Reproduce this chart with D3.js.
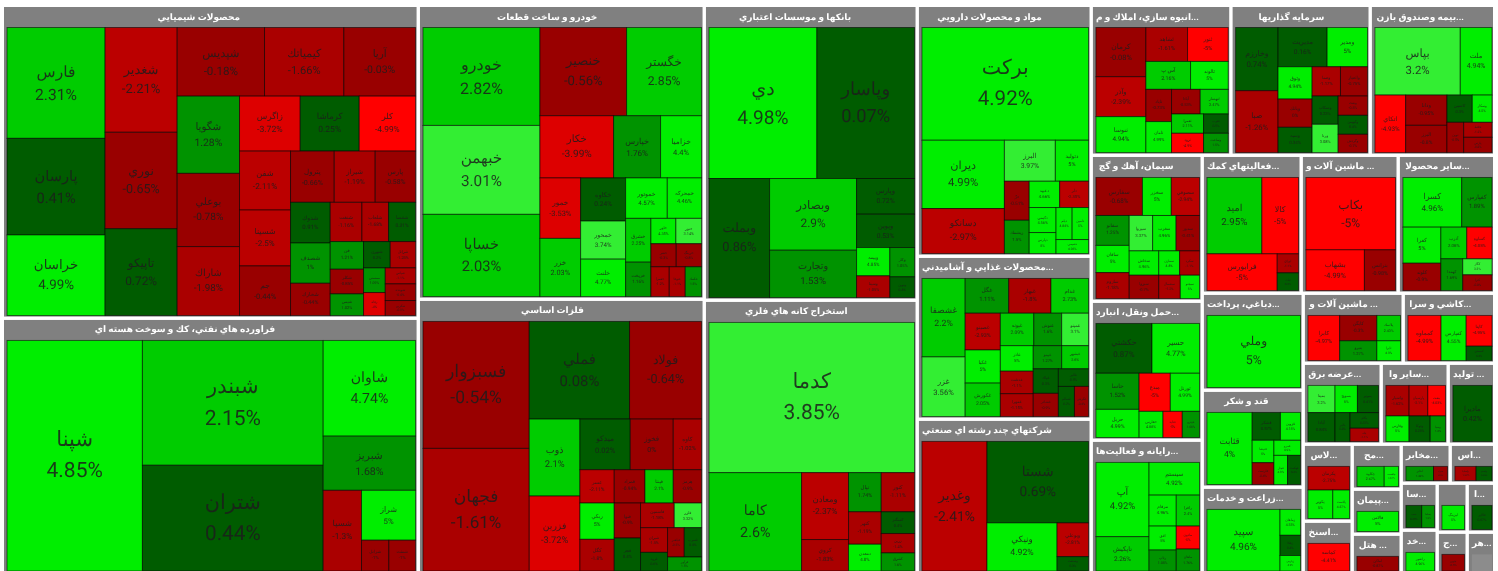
<!DOCTYPE html>
<html lang="fa">
<head>
<meta charset="utf-8">
<title>نقشه بازار</title>
<script src="https://cdn.jsdelivr.net/npm/d3@7"></script>
<style>
  html, body { margin: 0; padding: 0; background: #fff; overflow: hidden; }
  svg { display: block; filter: blur(0.35px); }
  text { font-family: Roboto, "DejaVu Sans", sans-serif; dominant-baseline: central; text-rendering: geometricPrecision; }
  .name, .change { text-anchor: middle; }
</style>
</head>
<body>
<script>
// Each sector: tickers, daily change (%), area weight, and how the cells nest.
// A split is read in turns (across, down, across...), n = the next n cells as one strip.
const chemNames = ['فارس','پارسان','خراسان','شغدير','نوري','تاپيكو','شپديس','كيمياتك','آريا','شگويا','بوعلي','شاراك','زاگرس','كرماشا','كلر','شفن','شسينا','جم','پترول','شيراز','پارس','شدوك','شصدف','شخارك','شنفت','شلعاب','شفسا','فن','شكلر','شيمي','شبهرن','شرانل','ممسني','رفاه','شپاس','شوينده','شكربن']
const chemChanges = [2.31,0.41,4.99,-2.21,-0.65,0.72,-0.18,-1.66,-0.03,1.28,-0.78,-1.98,-3.72,0.25,-4.99,-2.11,-2.5,-0.44,-0.66,-1.19,-0.58,0.91,1,-0.44,-1.16,-1.68,0.31,1.21,-0.85,1.02,0.2,-1.28,1.09,-4,-1.1,-0.4,-0.9]
const chemCaps = [10878,9477,7909,7560,6962,6264,6000,5450,4925,4818,4570,4300,3337,3245,3098,3009,2856,2533,2240,2100,2070,1615,1600,1282,1245,1048,1060,922,822,722,703,667,536,499,485,505,455]
const chemSplit = [3,3,[3,[3,[3,[3,[3,[3,[3,[3,[2,[2,3]]]]]]]]]]]

const oilNames = ['شپنا','شبندر','شتران','شاوان','شبريز','شسپا','شراز','شرانل','شنفت']
const oilChanges = [4.85,2.15,0.44,4.74,1.68,-1.3,5,-1,-1]
const oilCaps = [31080,22460,19030,8800,4985,3080,2684,838,819]
const oilSplit = [1,2,[1,1,[1,[1,2]]]]

const autoNames = ['خودرو','خبهمن','خساپا','خنصير','خگستر','خكار','خپارس','خزاميا','خمور','خزر','خكاوه','خمحور','خلنت','خموتور','خمحركه','خشرق','خريخت','خاور','ختور','خفنر','خرينگ','خعمرا','ختوقا','خكمك']
const autoChanges = [2.82,3.01,2.03,-0.56,2.85,-3.99,1.76,4.4,-3.53,2.03,0.24,3.74,4.77,4.57,4.46,2.25,1.16,4.35,3.14,-0.3,-0.8,-1.2,-1.1,1.5]
const autoCaps = [11430,10378,9594,7630,6600,4570,2914,2542,2454,2360,1935,1710,1680,1680,1382,1105,868,632,650,582,582,544,475,484]
const autoSplit = [3,[2,3,[2,3,[2,[2,[2,2,3]]]]]]

const metalNames = ['فسبزوار','فجهان','فملي','فولاد','ذوب','فزرين','ميدكو','فخوز','كاوه','عسر','فمراد','فپنتا','هرمز','ربكي','كگل','فنوا','فجر','فاسمين','فلزر','شيران','فرود','فباهنر','فسرب','فرآور']
const metalChanges = [-0.54,-1.61,0.08,-0.64,2.1,-3.72,0.02,0,-1.02,-2.11,-0.94,2.1,-0.9,5,-1.8,-0.9,0.4,-1.18,3.32,-1.5,0.6,-0.5,0.4,1.5]
const metalCaps = [13500,13040,9800,7034,3904,3802,2550,2180,1435,1143,1023,943,943,1246,1087,921,868,832,674,667,504,489,507,476]
const metalSplit = [2,[2,[2,[3,4,[2,2,[2,[2,[2,1]]]]]]]]

const bankNames = ['دي','وپاسار','وبملت','وبصادر','وتجارت','وپارس','وپوين','وبيمه','وسينا','وكار','ونوين']
const bankChanges = [4.98,0.07,0.86,2.9,1.53,0.72,0.53,4.85,-1.05,1.05,0.4]
const bankCaps = [16308,14750,7222,6240,4120,2070,1933,943,722,724,511]
const bankSplit = [2,[1,2,[1,1,[2,2]]]]

const miningNames = ['كدما','كاما','ومعادن','كروي','تپال','كتهر','دمعدن','كنور','كمنگنز','زرين','كشرق']
const miningChanges = [3.85,2.6,-2.37,-1.83,1.74,-1.19,4.8,-1.11,0.4,-1.4,1.6]
const miningCaps = [30790,9083,3133,1472,1275,1057,872,1300,722,643,600]
const miningSplit = [1,[1,2,3,4]]

const pharmaNames = ['بركت','ديران','دسانكو','البرز','دتوليد','درّ','ريشمك','دعبيد','دلر','دكيمي','دپارس','ديلم','دامين','دشيمي']
const pharmaChanges = [4.92,4.99,-2.97,3.97,5,-0.51,1.5,4.66,-2.35,4.56,5,4.84,5,4.96]
const pharmaCaps = [18670,5600,3690,2077,1353,963,822,797,754,667,560,512,522,452]
const pharmaSplit = [1,[2,[2,[2,[2,[2,[2,1]]]]]]]

const foodNames = ['غشصفا','غزر','غگل','غبهار','غدام','غصينو','غكيا','غكورش','غپونه','غنوش','غمينو','غاذر','غدشت','غمهرا','غپينو','غبشهر','غپاك','غشاذر','غالبر','غسالم','غگرجي']
const foodChanges = [2.2,3.56,1.11,-1.8,2.73,-2.93,5,2.05,2.09,1.6,3.1,5,-1.1,-1.15,1.27,2.6,0.3,-0.9,0.5,0.2,-0.4]
const foodCaps = [3397,2580,1517,1470,1307,1295,1167,1178,1089,906,873,840,742,752,660,622,617,583,531,485,424]
const foodSplit = [2,[3,[3,[3,[3,[2,[2,[1,2]]]]]]]]

const multiNames = ['وغدير','شستا','ونيكي','وبوعلي','وصنعت']
const multiChanges = [-2.41,0.69,4.92,-2.81,0.3]
const multiCaps = [8366,8211,3346,1055,448]
const multiSplit = [1,[1,[1,2]]]

const buildNames = ['كرمان','وآذر','ثنوسا','ثشاهد','ثنور','آس پ','ثالوند','ثاباد','ثامان','آبادا','ثبهساز','ثعمرا','ثرود','ثغرب','وساخت']
const buildChanges = [-0.08,-2.39,4.94,-1.61,-5,2.16,5,-0.73,4.99,-0.53,2.47,2.11,-4.9,0.5,1.5]
const buildCaps = [2467,2000,1800,1417,1383,1251,1055,829,796,708,691,619,619,477,477]
const buildSplit = [3,[2,2,[2,[2,[2,2]]]]]

const investNames = ['وخارزم','صبا','مديريت','ومدير','وثوق','وبانك','وسپه','وصنا','واعتبار','وسكاب','ورنا','ونفت','وكبهمن','وگردش']
const investChanges = [0.74,-1.26,0.16,5,4.94,0,0.34,-1.17,-0.75,0.23,3.08,-0.5,0.4,-0.7]
const investCaps = [2680,2625,1926,1585,1098,962,860,830,791,736,736,566,557,536]
const investSplit = [2,[2,[3,[2,[2,3]]]]]

const insureNames = ['بپاس','ملت','اتكاي','ودانا','البرز','كاسپين','وسكار','نوين','حافظ','پارس']
const insureChanges = [3.2,4.94,-4.93,-0.95,-0.8,0.3,4.5,-0.5,-1.2,-0.8]
const insureCaps = [5775,2146,1771,1251,1127,691,538,506,425,433]
const insureSplit = [2,[1,2,[2,[1,2]]]]

const cementNames = ['سفارس','سخزر','سصوفي','سفانو','ساقان','ساروم','سپروا','سغرب','سدور','سخاش','سمازن','سكرد','سبزوا','سشمال','سبجنو']
const cementChanges = [-0.68,5,-2.94,1.25,5,-1.18,3.37,4.96,-0.41,4.96,4.8,-1.1,-0.7,-1.2,5]
const cementCaps = [1775,1102,1077,1000,910,866,833,833,833,722,510,486,692,505,450]
const cementSplit = [3,[3,[3,3,3]]]

const transportNames = ['حكشتي','حسير','حاسا','حريل','مبدع','تورنل','حفارس','حتايد','حپترو']
const transportChanges = [0.87,4.77,1.52,4.99,-5,4.99,4.88,-5,1.66]
const transportCaps = [2815,2385,1572,1225,1199,1122,631,508,455]
const transportSplit = [2,[2,[2,3]]]

const computerNames = ['آپ','تاپكيش','سيستم','مرقام','افق','رتاپ','رافزا','مادون','ماهان']
const computerChanges = [4.92,2.26,4.92,4.96,5,1.05,2.4,-5,1.76]
const computerCaps = [3960,1830,1657,846,655,573,723,536,513]
const computerSplit = [2,[1,[3,3]]]

const supportNames = ['اميد','كالا','فرابورس','اوراق','ثبات']
const supportChanges = [2.95,-5,-5,-1.1,0.3]
const supportCaps = [4197,2800,2580,405,377]
const supportSplit = [2,[1,2]]

const machineNames = ['بكاب','بشهاب','بترانس']
const machineChanges = [-5,-4.99,-0.98]
const machineCaps = [6458,2373,1262]
const machineSplit = [1,[1,1]]

const otherNames = ['كسرا','كفپارس','كفرا','كلوند','آذرب','كساوه','كهمدا','كگاز','كثرا']
const otherChanges = [4.96,1.89,5,-0.9,2.06,-4.05,1.69,3.3,-0.8]
const otherCaps = [2897,1491,1357,1029,815,792,688,464,455]
const otherSplit = [2,[2,[2,[1,2]]]]

const sugarNames = ['قثابت','قشكر','قزوين','قنيشا','قلرست','قمرو','قچار','قهكمت']
const sugarChanges = [4,0.57,4.15,5,-0.4,4.9,4.9,0.4]
const sugarCaps = [3176,767,545,475,462,390,386,368]
const sugarSplit = [1,[2,[2,[1,2]]]]

const agriNames = ['سپيد','زماهان','زفكا','زپارس']
const agriChanges = [4.96,4.33,0.4,4.9]
const agriCaps = [4350,513,400,307]
const agriSplit = [1,3]

const machinery2Names = ['كابرا','كابگن','پلاسك','بنيرو','تايرا']
const machinery2Changes = [-4.97,-0.3,2.43,1.27,4.9]
const machinery2Caps = [1410,928,590,722,459]
const machinery2Split = [1,[2,2]]

const ceramicNames = ['كمماوه','كفپارس','كايتا','كسعدي']
const ceramicChanges = [-4.99,4.55,-4.95,0.3]
const ceramicCaps = [1485,1125,789,368]
const ceramicSplit = [1,1,2]

const supplyNames = ['بمپنا','بسويچ','بموتو','آبادا','بالبر','بكام','بتك']
const supplyChanges = [3.2,5,0.41,0.84,0.8,0.37,-1.1]
const supplyCaps = [737,609,573,783,435,444,377]
const supplySplit = [3,[1,1,2]]

const otherWNames = ['واسپار','پارسيان','بنفت','وفارس','وتوكا','وسپا']
const otherWChanges = [-1.62,-2.1,-4.03,5,0.25,1.2]
const otherWCaps = [697,562,531,583,532,385]
const otherWSplit = [3,3]

const lasNames = ['پكرمان','پكوير','پلاست']
const lasChanges = [-2.75,5,4.87]
const lasCaps = [977,705,473]
const lasSplit = [1,2]

const mohNames = ['چكاوه','چافست']
const mohChanges = [2.67,4.67]
const mohCaps = [565,296]

const mokhNames = ['اخابر','همراه']
const mokhChanges = [1.42,-0.5]
const mokhCaps = [435,220]

const asNames = ['ولساپا','ولصنم']
const asChanges = [-1.32,0.35]
const asCaps = [64,48]

const saNames = ['سپ','بساما']
const saChanges = [0.35,1.3]
const saCaps = [47,38]

const sectorTitles = ['محصولات شيميايي','فراورده هاي نفتي، كك و سوخت هسته اي','خودرو و ساخت قطعات','فلزات اساسي','بانكها و موسسات اعتباري','استخراج كانه هاي فلزي','مواد و محصولات دارويي','محصولات غذايي و آشاميدني...','شركتهاي چند رشته اي صنعتي','انبوه سازي، املاك و م...','سرمايه گذاريها','بيمه وصندوق بازن...','سيمان، آهك و گچ','حمل ونقل، انبارد...','رايانه و فعاليت‌ها...','فعاليتهاي كمك...','ماشين آلات و ...','ساير محصولا...','دباغي، پرداخت...','قند و شكر','زراعت و خدمات...','ماشين آلات و ...','كاشي و سرا...','عرضه برق...','ساير وا...','توليد ...','لاس...','اسنخ...','مح...','پيمان...','هتل ...','مخابر...','اس...','سا...','خد...','','ج...','ا...','هر...']
const sectorCaps = [130208,106288,84084,78507,62835,58256,43674,28362,26883,20955,20895,18675,16206,15429,14819,13662,13386,13317,9797,9797,8737,7000,6405,6318,5427,3767,3773,2573,2205,2205,1936,1911,1736,1692,1566,1470,1245,1348,1141]
const sectorSplit = [2,2,2,3,[3,[3,[3,[3,[2,3,[2,3,[2,[2,2,2]]]]]]]]]

// names, changes, caps, split, first direction; same order as sectorTitles
const sectorCells = [
  [chemNames, chemChanges, chemCaps, chemSplit, 'h'],
  [oilNames, oilChanges, oilCaps, oilSplit, 'h'],
  [autoNames, autoChanges, autoCaps, autoSplit, 'h'],
  [metalNames, metalChanges, metalCaps, metalSplit, 'h'],
  [bankNames, bankChanges, bankCaps, bankSplit, 'v'],
  [miningNames, miningChanges, miningCaps, miningSplit, 'v'],
  [pharmaNames, pharmaChanges, pharmaCaps, pharmaSplit, 'v'],
  [foodNames, foodChanges, foodCaps, foodSplit, 'h'],
  [multiNames, multiChanges, multiCaps, multiSplit, 'h'],
  [buildNames, buildChanges, buildCaps, buildSplit, 'h'],
  [investNames, investChanges, investCaps, investSplit, 'h'],
  [insureNames, insureChanges, insureCaps, insureSplit, 'v'],
  [cementNames, cementChanges, cementCaps, cementSplit, 'v'],
  [transportNames, transportChanges, transportCaps, transportSplit, 'v'],
  [computerNames, computerChanges, computerCaps, computerSplit, 'h'],
  [supportNames, supportChanges, supportCaps, supportSplit, 'v'],
  [machineNames, machineChanges, machineCaps, machineSplit, 'v'],
  [otherNames, otherChanges, otherCaps, otherSplit, 'v'],
  [['وملي'], [5], [1], [1], 'h'],
  [sugarNames, sugarChanges, sugarCaps, sugarSplit, 'h'],
  [agriNames, agriChanges, agriCaps, agriSplit, 'h'],
  [machinery2Names, machinery2Changes, machinery2Caps, machinery2Split, 'h'],
  [ceramicNames, ceramicChanges, ceramicCaps, ceramicSplit, 'h'],
  [supplyNames, supplyChanges, supplyCaps, supplySplit, 'v'],
  [otherWNames, otherWChanges, otherWCaps, otherWSplit, 'v'],
  [['ماديرا'], [0.42], [1], [1], 'h'],
  [lasNames, lasChanges, lasCaps, lasSplit, 'v'],
  [['كماسه'], [-4.41], [1], [1], 'h'],
  [mohNames, mohChanges, mohCaps, [1,1], 'h'],
  [['فالامن'], [5], [1], [1], 'h'],
  [['اماكن'], [-0.87], [1], [1], 'h'],
  [mokhNames, mokhChanges, mokhCaps, [1,1], 'h'],
  [asNames, asChanges, asCaps, [1,1], 'h'],
  [saNames, saChanges, saCaps, [1,1], 'h'],
  [['رانفور'], [4.96], [1], [1], 'h'],
  [['ليزينگ'], [5], [1], [1], 'h'],
  [['جوين'], [-0.5], [1], [1], 'h'],
  [['فالاير'], [0.67], [1], [1], 'h'],
  [[null], [null], [1], [1], 'h'],
]

const width = 1498, height = 571
const changeSteps = [-4, -3, -2, -1, 0.001, 1, 2, 3, 4]
const changeColors = ['#ff0000','#dd0000','#bb0000','#aa0000','#990000','#005c00','#009300','#00cc00','#33ee33','#00ee00']

const color = d3.scaleThreshold().domain(changeSteps).range(changeColors)
const fontSize = d3.scaleSqrt().domain([0, 19600]).range([0, 21]).clamp(true)

// turn a split list into nested nodes, taking cells in order
function nest(split, vertical, nextLeaf, extra) {
  return {
    vertical,
    ...extra,
    children: split.map(s => {
      if (Array.isArray(s)) return nest(s, !vertical, nextLeaf, extra)
      if (s === 1) return nextLeaf()
      return { vertical: !vertical, ...extra, children: d3.range(s).map(nextLeaf) }
    })
  }
}

function sectorNode(i) {
  const [names, changes, caps, split, first] = sectorCells[i]
  const total = d3.sum(caps)
  let k = 0
  const leaf = () => {
    const j = k++
    return { name: names[j], change: changes[j], value: caps[j] / total * sectorCaps[i], inSector: true }
  }
  const node = nest(split, first === 'v', leaf, { inSector: true })
  node.title = sectorTitles[i]
  node.isSector = true
  return node
}

let sectorIndex = 0
const rootData = nest(sectorSplit, false, () => sectorNode(sectorIndex++), {})

const root = d3.hierarchy(rootData).sum(d => d.value || 0)

d3.treemap()
  .size([1489, 565])
  .round(false)
  .tile((node, x0, y0, x1, y1) => {
    (node.data.vertical ? d3.treemapSlice : d3.treemapDice)(node, x0, y0, x1, y1)
  })
  .paddingInner(n => n.data.inSector ? 0 : 3.4)
  .paddingTop(n => n.data.isSector ? 20.5 : 0)
  .paddingLeft(n => n.data.isSector ? 3 : 0)
  .paddingRight(n => n.data.isSector ? 1 : 0)
  .paddingBottom(n => n.data.isSector ? 1 : 0)(root)

const svg = d3.select('body').append('svg')
  .attr('width', width)
  .attr('height', height)

const g = svg.append('g').attr('transform', 'translate(4,7)')

const nodes = root.descendants()
const sectors = nodes.filter(d => d.data.isSector)
const leaves = root.leaves()

// gray sector boxes with titles
g.selectAll('.sector').data(sectors).join('rect')
  .attr('class', 'sector')
  .attr('x', d => d.x0)
  .attr('y', d => d.y0)
  .attr('width', d => d.x1 - d.x0)
  .attr('height', d => d.y1 - d.y0)
  .attr('fill', '#808080')

// the titles sit left of centre, long ones run from the box's left edge
g.selectAll('.title').data(sectors).join('text')
  .attr('class', 'title')
  .attr('y', d => d.y0 + 10.5)
  .attr('fill', '#fff')
  .attr('font-size', 9)
  .attr('font-weight', 700)
  .text(d => d.data.title)
  .attr('x', function (d) {
    const w = this.getComputedTextLength()
    return Math.max(d.x0 + 3, (d.x0 + d.x1) / 2 - w * 0.64)
  })

// cells
g.selectAll('.cell').data(leaves).join('rect')
  .attr('class', 'cell')
  .attr('x', d => d.x0)
  .attr('y', d => d.y0)
  .attr('width', d => d.x1 - d.x0)
  .attr('height', d => d.y1 - d.y0)
  .attr('fill', d => d.data.change === null ? '#8c8c8c' : color(d.data.change))
  .attr('stroke', d => d.data.change === null ? 'none' : '#000')
  .attr('stroke-opacity', 0.55)
  .attr('stroke-width', 1)

const labelled = leaves.filter(d => d.data.change !== null)
const sizeOf = d => fontSize((d.x1 - d.x0) * (d.y1 - d.y0))

g.selectAll('.name').data(labelled).join('text')
  .attr('class', 'name')
  .attr('x', d => (d.x0 + d.x1) / 2)
  .attr('y', d => (d.y0 + d.y1) / 2 - sizeOf(d) * 0.75)
  .attr('font-size', sizeOf)
  .attr('fill', '#1c1c1c')
  .attr('fill-opacity', 0.85)
  .text(d => d.data.name)

g.selectAll('.change').data(labelled).join('text')
  .attr('class', 'change')
  .attr('x', d => (d.x0 + d.x1) / 2)
  .attr('y', d => (d.y0 + d.y1) / 2 + sizeOf(d) * 0.75)
  .attr('font-size', sizeOf)
  .attr('fill', '#1c1c1c')
  .attr('fill-opacity', 0.85)
  .text(d => d.data.change + '%')
</script>
</body>
</html>
